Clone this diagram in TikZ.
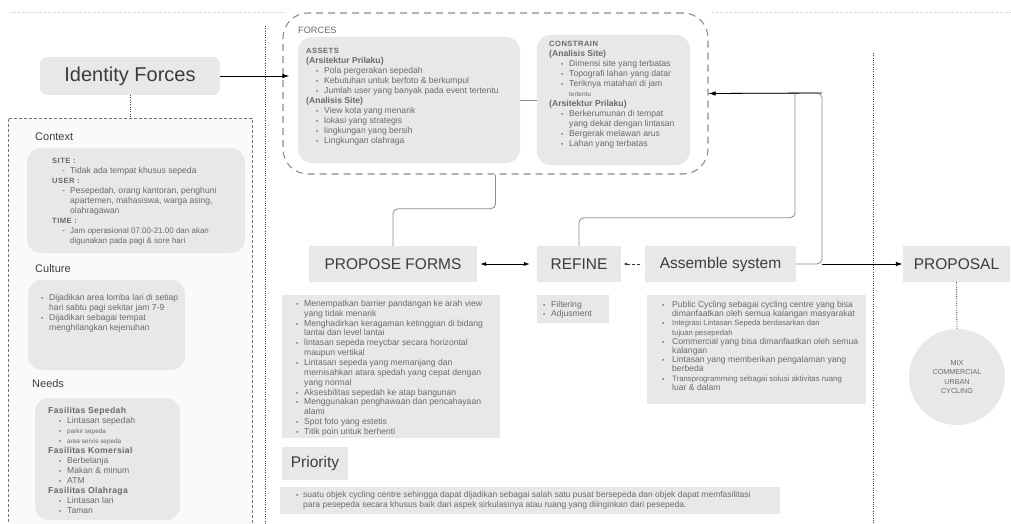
\documentclass[tikz,border=0pt]{standalone}
\usepackage{fontspec}
\setmainfont{Liberation Sans}
\usetikzlibrary{arrows.meta,fit}
\definecolor{boxg}{HTML}{E8E8E8}
\definecolor{txtg}{HTML}{6A6A6A}
\definecolor{hdg}{HTML}{3C3C3C}
\definecolor{lineg}{HTML}{8C8C8C}
\newcommand\bu{\makebox[8pt][l]{\scalebox{0.75}{\textbullet}}}
\newcommand\ind{\hspace*{8pt}}
\newcommand\hd[1]{{\fontsize{7.6}{10}\selectfont\bfseries\addfontfeature{LetterSpace=6}#1}}
\newcommand\hb[1]{{\bfseries #1}}
\newcommand\smt[1]{{\fontsize{6.4}{10}\selectfont #1}}
\begin{document}
\begin{tikzpicture}[x=1pt,y=-1pt,
  gbox/.style={fill=boxg,draw=none,inner sep=0pt,rounded corners=14pt},
  sbox/.style={fill=boxg,draw=none,inner sep=0pt},
  lst/.style={anchor=north west,inner sep=0pt,align=left,text=txtg,font=\fontsize{8.6}{10}\selectfont},
  big/.style={sbox,text=hdg,font=\fontsize{15.5}{18}\selectfont},
  conn/.style={draw=lineg,line width=0.8pt,rounded corners=5pt},
  arr/.style={-{Latex[length=7pt,width=4.5pt]},black,line width=0.9pt},
  dotl/.style={draw=black!75,line width=0.9pt,dash pattern=on 0.9pt off 1.4pt},
  faint/.style={draw=black!22,line width=0.8pt,dash pattern=on 1pt off 1.5pt},
  sec/.style={anchor=west,inner sep=0pt,text=hdg,font=\fontsize{11}{13}\selectfont}]
\useasboundingbox (0,0) rectangle (1011,524);
\fill[white] (0,0) rectangle (1011,524);

% faint top dotted line
\draw[faint] (10,12) -- (283,12);
\draw[faint] (712,12) -- (1011,12);
% vertical dotted separators
\draw[dotl] (265,26) -- (265,524);
\draw[dotl] (873,53) -- (873,524);

% Identity forces and left panel
\node[gbox,rounded corners=7pt,minimum width=180pt,minimum height=38pt,text=hdg,font=\fontsize{20}{22}\selectfont] (idf) at (130,76) {Identity Forces};
\node[fit={(8,118)(252,534)},inner sep=0pt,draw=black!55,dash pattern=on 3pt off 2pt,line width=0.8pt,fill=black!2] (lb) {};
\draw[dotl] (idf.south) -- (idf.south |- lb.north);

\node[sec] (ctxh) at (35,137) {Context};
\node[gbox,fit={(27,148)(245,253)}] (ctx) {};
\node[lst] (ctxt) at (52,158) {\hd{SITE :}\\
\hspace*{10pt}\makebox[8pt][l]{-}Tidak ada tempat khusus sepeda\\
\hd{USER :}\\
\hspace*{10pt}\makebox[8pt][l]{-}Pesepedah, orang kantoran, penghuni\\
\hspace*{18pt}apartemen, mahasiswa, warga asing,\\
\hspace*{18pt}olahragawan\\
\hd{TIME :}\\
\hspace*{10pt}\makebox[8pt][l]{-}{\fontsize{8}{10}\selectfont Jam operasional 07.00-21.00 dan akan}\\
\hspace*{18pt}{\fontsize{8}{10}\selectfont digunakan pada pagi \& sore hari}};

\node[sec] (culh) at (35,269) {Culture};
\node[gbox,fit={(28,280)(185,370)}] (cul) {};
\node[lst] (cult) at (41,294) {\bu Dijadikan area lomba lari di setiap\\
\ind hari sabtu pagi sekitar jam 7-9\\
\bu Dijadikan sebagai tempat\\
\ind menghilangkan kejenuhan};

\node[sec] (needh) at (32,384) {Needs};
\node[gbox,fit={(35,398)(180,520)}] (need) {};
\node[lst] (needt) at (48,407) {\hb{\addfontfeature{LetterSpace=4}Fasilitas Sepedah}\\
\hspace*{11pt}\bu Lintasan sepedah\\
\hspace*{11pt}\bu \smt{parkir sepeda}\\
\hspace*{11pt}\bu \smt{area servis sepeda}\\
\hb{\addfontfeature{LetterSpace=4}Fasilitas Komersial}\\
\hspace*{11pt}\bu Berbelanja\\
\hspace*{11pt}\bu Makan \& minum\\
\hspace*{11pt}\bu ATM\\
\hb{\addfontfeature{LetterSpace=4}Fasilitas Olahraga}\\
\hspace*{11pt}\bu Lintasan lari\\
\hspace*{11pt}\bu Taman};

% Forces
\node[fit={(283,13)(708,174)},inner sep=0pt,draw=lineg,line width=1.1pt,dash pattern=on 7pt off 5pt,rounded corners=25pt] (forces) {};
\node[anchor=west,inner sep=0pt,text=txtg,font=\fontsize{9.2}{11}\selectfont] (forcesl) at (298,30) {FORCES};
\node[gbox,fit={(298,37)(520,163)}] (assets) {};
\node[gbox,fit={(537,35)(690,165)}] (constr) {};
\draw[conn] (assets.east) -- (constr.west);
\node[lst] (assetst) at (306,48) {\hd{ASSETS}\\
\hb{(Arsitektur Prilaku)}\\
\hspace*{10pt}\bu Pola pergerakan sepedah\\
\hspace*{10pt}\bu Kebutuhan untuk berfoto \& berkumpul\\
\hspace*{10pt}\bu Jumlah user yang banyak pada event tertentu\\
\hb{(Analisis Site)}\\
\hspace*{10pt}\bu View kota yang menarik\\
\hspace*{10pt}\bu lokasi yang strategis\\
\hspace*{10pt}\bu lingkungan yang bersih\\
\hspace*{10pt}\bu Lingkungan olahraga};
\node[lst] (constrt) at (549,41) {\hd{CONSTRAIN}\\
\hb{(Analisis Site)}\\
\hspace*{12pt}\bu Dimensi site yang terbatas\\
\hspace*{12pt}\bu Topografi lahan yang datar\\
\hspace*{12pt}\bu Teriknya matahari di jam\\
\hspace*{20pt}\smt{tertentu}\\
\hb{(Arsitektur Prilaku)}\\
\hspace*{12pt}\bu Berkerumunan di tempat\\
\hspace*{20pt}yang dekat dengan lintasan\\
\hspace*{12pt}\bu Bergerak melawan arus\\
\hspace*{12pt}\bu Lahan yang terbatas};

\draw[arr] (idf.east) -- (idf.east -| forces.west) [shorten >=-7pt];

% process row
\node[big,minimum width=168pt,minimum height=36pt] (pf) at (393,264) {PROPOSE FORMS};
\node[big,minimum width=84pt,minimum height=36pt] (rf) at (579,264) {REFINE};
\node[big,minimum width=151pt,minimum height=36pt] (as) at (720.5,264) {Assemble system};
\node[big,minimum width=107pt,minimum height=36pt] (prop) at (956.5,264) {PROPOSAL};
\node[sbox,circle,minimum size=96pt,text=txtg,align=center,font=\fontsize{7.2}{9.5}\selectfont] (circ) at (957,377) {MIX\\COMMERCIAL\\URBAN\\CYCLING};

\coordinate (jn) at (795,93);
\coordinate (tr) at (822,93);
\draw[conn] (pf.north) -- ++(0,-37) -| (forces.south);
\draw[conn] (rf.north) -- ++(0,-28) -| (jn);
\draw[conn] (as.east) -| (tr) -- (forces.east);
\draw[arr,line width=0.8pt] (tr) -- (forces.east);
\draw[arr] (as.east -| tr) -- (prop.west);
\draw[{Latex[length=6pt,width=4pt]}-{Latex[length=6pt,width=4pt]},black,line width=0.8pt,shorten <=3pt,shorten >=7pt] (pf.east) -- (rf.west);
\draw[{Latex[length=4pt,width=3pt]}-,black!80,line width=0.8pt,dash pattern=on 3pt off 2pt,shorten <=2pt,shorten >=3pt] (rf.east) -- (as.west);
\draw[dotl] (prop.south) -- (circ.north);

% lists
\node[sbox,fit={(282,295)(500,438)}] (pfl) {};
\node[lst,font=\fontsize{8.6}{9.85}\selectfont] (pflt) at (296,300) {\bu Menempatkan barrier pandangan ke arah view\\
\ind yang tidak menarik\\
\bu Menghadirkan keragaman ketinggian di bidang\\
\ind lantai dan level lantai\\
\bu lintasan sepeda meycbar secara horizontal\\
\ind maupun vertikal\\
\bu Lintasan sepeda yang memanjang dan\\
\ind memisahkan atara spedah yang cepat dengan\\
\ind yang normal\\
\bu Aksesbilitas sepedah ke atap bangunan\\
\bu Menggunakan penghawaan dan pencahayaan\\
\ind alami\\
\bu Spot foto yang estetis\\
\bu Titik poin untuk berhenti};

\node[sbox,fit={(537,295)(609,323)}] (rfl) {};
\node[lst,font=\fontsize{8.6}{9}\selectfont] (rflt) at (543,301) {\bu Filtering\\ \bu Adjusment};

\node[sbox,fit={(647,295)(866,404)}] (asl) {};
\node[lst,font=\fontsize{8.6}{9.2}\selectfont] (aslt) at (662,301) {\makebox[10pt][l]{\scalebox{0.75}{\textbullet}}Public Cycling sebagai cycling centre yang bisa\\
\hspace*{10pt}dimanfaatkan oleh semua kalangan masyarakat\\
\makebox[10pt][l]{\scalebox{0.75}{\textbullet}}{\fontsize{7.6}{9.2}\selectfont Integrasi Lintasan Sepeda berdasarkan dan}\\
\hspace*{10pt}{\fontsize{7.6}{9.2}\selectfont tujuan pesepedah}\\
\makebox[10pt][l]{\scalebox{0.75}{\textbullet}}Commercial yang bisa dimanfaatkan oleh semua\\
\hspace*{10pt}kalangan\\
\makebox[10pt][l]{\scalebox{0.75}{\textbullet}}Lintasan yang memberikan pengalaman yang\\
\hspace*{10pt}berbeda\\
\makebox[10pt][l]{\scalebox{0.75}{\textbullet}}{\fontsize{7.8}{9.2}\selectfont Transprogramming sebagai solusi aktivitas ruang}\\
\hspace*{10pt}luar \& dalam};

\node[big,minimum width=66pt,minimum height=33pt] (prio) at (315,463.5) {Priority};
\node[sbox,fit={(280,487)(780,514)}] (priol) {};
\node[lst,font=\fontsize{8.5}{10.5}\selectfont] (priot) at (296,491) {\makebox[7pt][l]{\scalebox{0.75}{\textbullet}}suatu objek cycling centre sehingga dapat dijadikan sebagai salah satu pusat bersepeda dan objek dapat memfasilitasi\\
\hspace*{7pt}para pesepeda secara khusus baik dari aspek sirkulasinya atau ruang yang diinginkan dari pesepeda.};
\end{tikzpicture}
\end{document}
